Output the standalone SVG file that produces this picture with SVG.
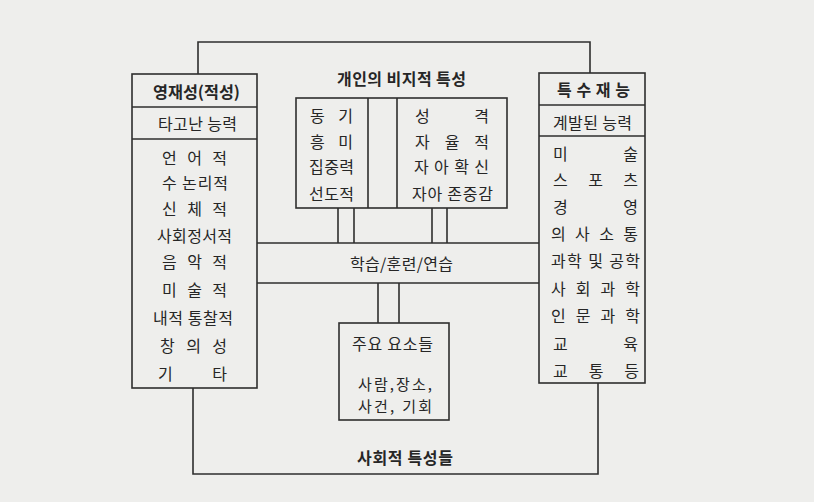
<svg xmlns="http://www.w3.org/2000/svg" width="814" height="502" viewBox="0 0 814 502">
<style>
.box{fill:none;stroke:#2e2e2e;stroke-width:1.6}
.ln{fill:none;stroke:#2e2e2e;stroke-width:1.6}
.t{font-family:"Noto Sans CJK KR","Noto Sans",sans-serif;font-size:16px;fill:#262626;dominant-baseline:central}
.s{font-size:15px}
.b{font-weight:bold}
</style>
<rect x="0" y="0" width="814" height="502" fill="#eeeeec"/>
<g id="connectors">
<polyline class="ln" points="198,74 198,42 590,42 590,73"/>
<polyline class="ln" points="193,388 193,474 598,474 598,383"/>
<line class="ln" x1="338" y1="208" x2="338" y2="243"/>
<line class="ln" x1="354" y1="208" x2="354" y2="243"/>
<line class="ln" x1="432" y1="208" x2="432" y2="243"/>
<line class="ln" x1="447" y1="208" x2="447" y2="243"/>
<line class="ln" x1="378" y1="283" x2="378" y2="323"/>
<line class="ln" x1="399" y1="283" x2="399" y2="323"/>
</g>
<g id="left-gifted">
<rect class="box" x="132" y="74" width="125" height="314"/>
<line class="ln" x1="132" y1="107" x2="257" y2="107"/>
<line class="ln" x1="132" y1="139" x2="257" y2="139"/>
<text class="t b" x="153" y="91" textLength="87" lengthAdjust="spacingAndGlyphs">영재성(적성)</text>
<text class="t" x="158" y="123" textLength="79" lengthAdjust="spacing">타고난 능력</text>
<text class="t" x="162" y="157" textLength="65" lengthAdjust="spacing">언 어 적</text>
<text class="t" x="162" y="182" textLength="66" lengthAdjust="spacing">수 논리적</text>
<text class="t" x="162" y="208" textLength="65" lengthAdjust="spacing">신 체 적</text>
<text class="t" x="157" y="235" textLength="75" lengthAdjust="spacing">사회정서적</text>
<text class="t" x="162" y="261" textLength="65" lengthAdjust="spacing">음 악 적</text>
<text class="t" x="162" y="289" textLength="65" lengthAdjust="spacing">미 술 적</text>
<text class="t" x="153" y="317" textLength="80" lengthAdjust="spacing">내적 통찰적</text>
<text class="t" x="160" y="345" textLength="67" lengthAdjust="spacing">창 의 성</text>
<text class="t" x="158" y="373" textLength="69" lengthAdjust="spacing">기 타</text>
</g>
<g id="right-talent">
<rect class="box" x="539" y="73" width="106" height="310"/>
<line class="ln" x1="539" y1="105" x2="645" y2="105"/>
<line class="ln" x1="539" y1="136" x2="645" y2="136"/>
<text class="t b" x="557" y="89" textLength="73" lengthAdjust="spacing">특수재능</text>
<text class="t" x="553" y="122" textLength="79" lengthAdjust="spacing">계발된 능력</text>
<text class="t" x="553" y="153" textLength="85" lengthAdjust="spacing">미 술</text>
<text class="t" x="553" y="179" textLength="85" lengthAdjust="spacing">스 포 츠</text>
<text class="t" x="553" y="206" textLength="85" lengthAdjust="spacing">경 영</text>
<text class="t" x="551" y="233" textLength="87" lengthAdjust="spacing">의 사 소 통</text>
<text class="t" x="551" y="260" textLength="89" lengthAdjust="spacing">과학 및 공학</text>
<text class="t" x="551" y="288" textLength="89" lengthAdjust="spacing">사 회 과 학</text>
<text class="t" x="551" y="315" textLength="89" lengthAdjust="spacing">인 문 과 학</text>
<text class="t" x="553" y="343" textLength="85" lengthAdjust="spacing">교 육</text>
<text class="t" x="553" y="370" textLength="86" lengthAdjust="spacing">교 통 등</text>
</g>
<g id="nonintellectual">
<text class="t b" x="337" y="78" textLength="129" lengthAdjust="spacing">개인의 비지적 특성</text>
<rect class="box" x="296" y="98" width="211" height="110"/>
<line class="ln" x1="368" y1="98" x2="368" y2="208"/>
<line class="ln" x1="397" y1="98" x2="397" y2="208"/>
<text class="t" x="310" y="115" textLength="43" lengthAdjust="spacing">동 기</text>
<text class="t" x="310" y="141" textLength="43" lengthAdjust="spacing">흥 미</text>
<text class="t" x="309" y="166" textLength="45" lengthAdjust="spacing">집중력</text>
<text class="t" x="309" y="193" textLength="45" lengthAdjust="spacing">선도적</text>
<text class="t" x="415" y="115" textLength="74" lengthAdjust="spacing">성 격</text>
<text class="t" x="415" y="141" textLength="74" lengthAdjust="spacing">자 율 적</text>
<text class="t" x="414" y="166" textLength="75" lengthAdjust="spacing">자 아 확 신</text>
<text class="t" x="412" y="193" textLength="81" lengthAdjust="spacing">자아 존중감</text>
</g>
<g id="training">
<line class="ln" x1="257" y1="243" x2="539" y2="243"/>
<line class="ln" x1="257" y1="283" x2="539" y2="283"/>
<text class="t" x="350" y="263" textLength="103" lengthAdjust="spacing">학습/훈련/연습</text>
</g>
<g id="key-elements">
<rect class="box" x="339" y="323" width="110" height="97"/>
<text class="t" x="352" y="343" textLength="81" lengthAdjust="spacing">주요 요소들</text>
<text class="t s" x="358" y="383" textLength="74" lengthAdjust="spacing">사람,장소,</text>
<text class="t s" x="358" y="405" textLength="74" lengthAdjust="spacing">사건, 기회</text>
</g>
<g id="social">
<text class="t b" x="357" y="457" textLength="96" lengthAdjust="spacing">사회적 특성들</text>
</g>
</svg>
